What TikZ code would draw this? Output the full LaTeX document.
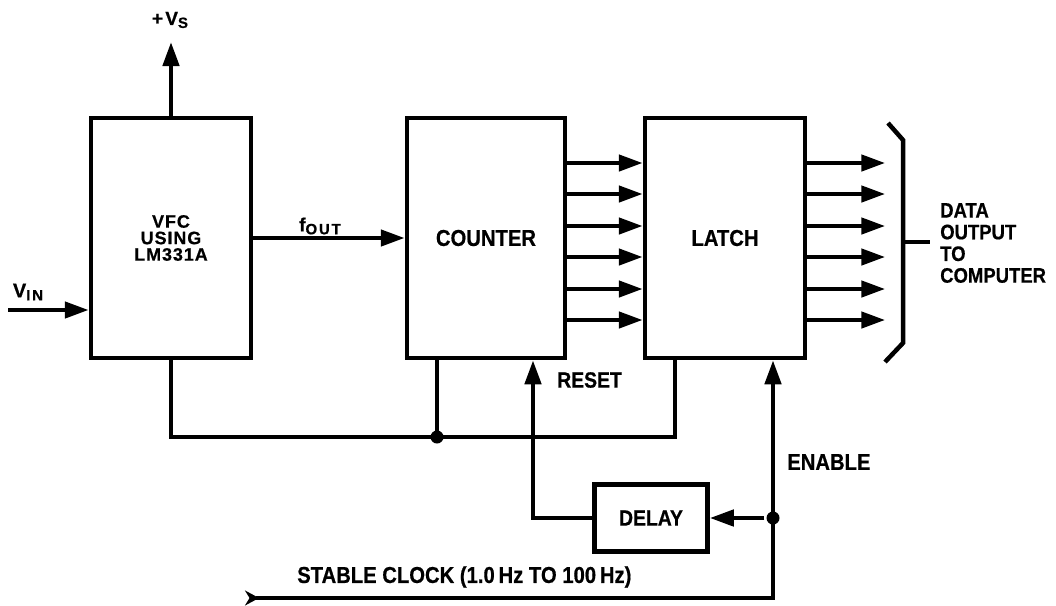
\documentclass[tikz,border=0pt]{standalone}
\usepackage{fontspec}
\setmainfont{Liberation Sans}[FakeStretch=0.88, FakeBold=0.6]
\newfontfamily\widefont{Liberation Sans}[FakeBold=0.6, LetterSpace=12]
\newfontfamily\boxfont{Liberation Sans}[FakeBold=0.6, LetterSpace=5]
\usetikzlibrary{arrows.meta,positioning}
\newcommand{\lowsub}[1]{\raisebox{-3pt}{\widefont\bfseries\fontsize{15}{15}\selectfont #1}}

\begin{document}
\begin{tikzpicture}[
  x=1pt, y=-1pt,
  line width=4.5pt,
  font=\bfseries\fontsize{23}{22}\selectfont,
  >={Triangle[length=24pt,width=16pt]},
  block/.style={
    draw,
    rectangle,
    inner sep=0pt,
    minimum width=160pt,
    minimum height=240pt,
    align=center
    },
  lbl/.style={inner sep=0pt, align=left},
  jdot/.style={circle, fill, inner sep=0pt, minimum size=13pt}
]
\useasboundingbox (0,0) rectangle (1056,605);

\node [block, font=\boxfont\bfseries\fontsize{18}{16.5}\selectfont] (vfc) at (171,238) {VFC\\USING\\LM331A};
\node [block, minimum width=158pt] (counter) at (486,238) {COUNTER};
\node [block] (latch) at (725,238) {LATCH};
\node [block, minimum width=113pt, minimum height=67pt, font=\bfseries\fontsize{22}{22}\selectfont] (delay) at (651,518) {DELAY};

\coordinate (vs) at (171,42);
\coordinate (vin) at (8,310);
\coordinate (bus) at (437,437);
\coordinate (lclr) at ([xshift=32pt]latch.south west);
\coordinate (rst) at ([xshift=47pt]counter.south);
\coordinate (en) at ([xshift=48pt]latch.south);
\coordinate (clkin) at (245,598);
\coordinate (brk) at (903,242);

\draw [->] (vfc.north) -- (vs);
\node [lbl, font=\widefont\bfseries\fontsize{19}{19}\selectfont] (vslbl) at (170,20) {+V\lowsub{S}};
\draw [->] (vin) -- (vin -| vfc.west);
\node [lbl, font=\widefont\bfseries\fontsize{20}{20}\selectfont] (vinlbl) at (28,292) {V\lowsub{IN}};
\draw [->] (vfc) -- (counter);
\node [lbl, font=\widefont\bfseries\fontsize{19}{19}\selectfont] (fout) at (320,226) {f\lowsub{OUT}};

\foreach \y in {163,194,226,257,289,320} {
  \draw [->] (counter.east |- 0,\y) -- (latch.west |- 0,\y);
  \draw [->] (latch.east |- 0,\y) -- ++(78,0);
}

\draw (888,123) -- (903,140) -- (903,343) -- (885,362);
\draw (brk) -- ++(27,0);
\node [lbl, anchor=west, font=\bfseries\fontsize{21}{21.7}\selectfont] (data) at (938,243) {DATA\\OUTPUT\\TO\\COMPUTER};

\draw (vfc.south) |- (bus) -| (lclr);
\draw (counter.south -| bus) -- (bus);
\node [jdot] (busdot) at (bus) {};

\draw [->] (delay.west) -| (rst);
\node [lbl, anchor=west, font=\bfseries\fontsize{22}{22}\selectfont] (rstlbl) at (555,380) {RESET};

\draw [{Stealth[reversed,length=14pt,width=15pt]}->] (clkin) -| (en);
\node [jdot] (clkdot) at (en |- delay) {};
\draw [->] (clkdot) -- (delay.east);
\node [lbl, anchor=west] (enlbl) at (785,462) {ENABLE};
\node [lbl, anchor=west] (clklbl) at (295,577) {STABLE CLOCK (1.0\,Hz TO 100\,Hz)};

\end{tikzpicture}
\end{document}
